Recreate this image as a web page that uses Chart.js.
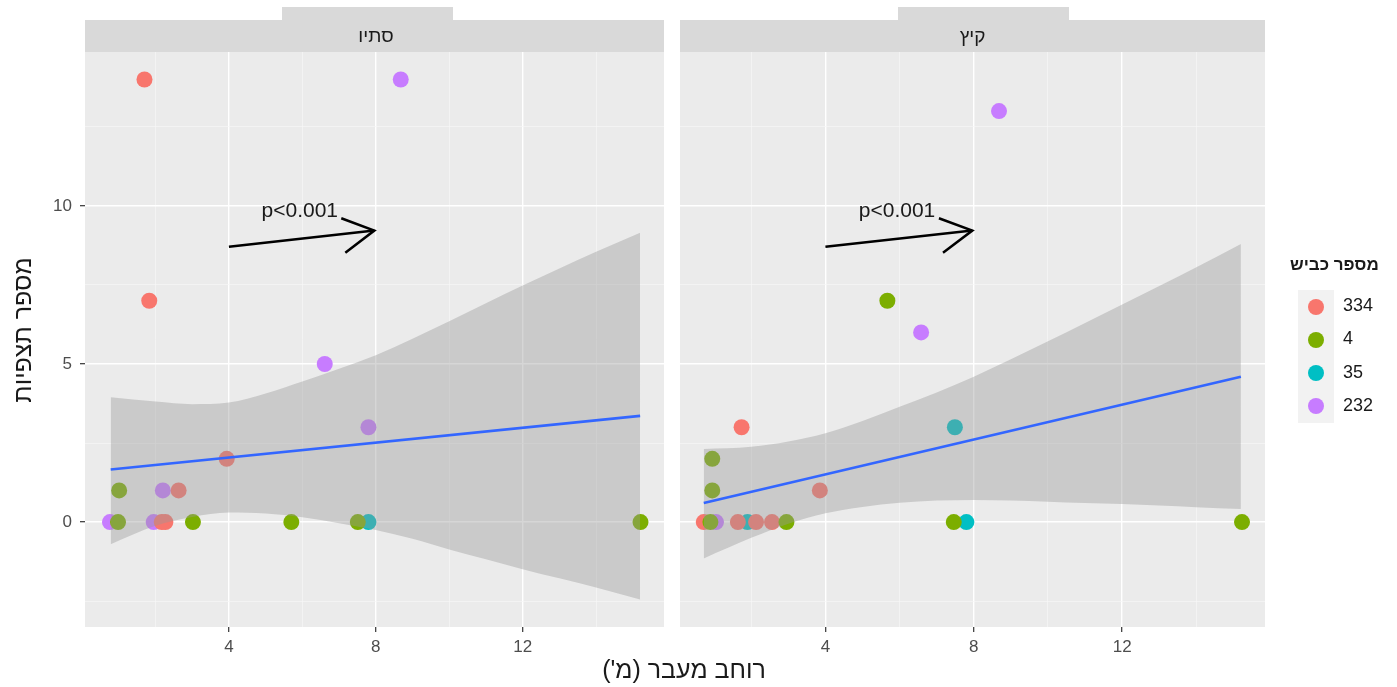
<!DOCTYPE html>
<html>
<head>
<meta charset="utf-8">
<script src="https://cdn.jsdelivr.net/npm/chart.js@4.4.0/dist/chart.umd.min.js"></script>
<style>
  body { margin: 0; background: #fff; width: 1397px; height: 687px; overflow: hidden; position: relative;
         font-family: "Liberation Sans", Arial, sans-serif; }
  canvas { position: absolute; top: 0; }
  .txt { position: absolute; white-space: nowrap; color: #1a1a1a; }
  .strip { top: 20px; height: 32px; line-height: 32px; font-size: 19px; text-align: center; }
  #ytitle { left: -128px; width: 300px; top: 316px; line-height: 28px; font-size: 25px; text-align: center; transform: rotate(-90deg); }
  #xtitle { left: 484px; width: 400px; top: 655px; line-height: 28px; font-size: 25px; text-align: center; }
  #legend { position: absolute; left: 1286px; top: 255px; }
  #legend .title { left: 4px; top: 0; font-size: 17px; font-weight: bold; line-height: 20px; }
  #legend .keys { position: absolute; left: 12px; top: 35px; width: 36px; background: #f2f2f2; }
  #legend .row { position: relative; height: 33.3px; }
  #legend .dot { position: absolute; left: 10px; top: 8.6px; width: 16px; height: 16px; border-radius: 50%; }
  #legend .lab { position: absolute; left: 45px; top: 5px; font-size: 18px; color: #1a1a1a; }
</style>
</head>
<body>
<canvas id="autumn" width="672" height="687" style="left:0"></canvas>
<canvas id="summer" width="725" height="687" style="left:672px"></canvas>
<div class="txt strip" dir="rtl" style="left:85px;width:582px">סתיו</div>
<div class="txt strip" dir="rtl" style="left:680px;width:585px">קיץ</div>
<div class="txt" id="ytitle" dir="rtl">מספר תצפיות</div>
<div class="txt" id="xtitle" dir="rtl">רוחב מעבר (מ')</div>
<div id="legend"><div class="txt title" dir="rtl">מספר כביש</div><div class="keys"></div></div>
<script>
// road numbers (legend order)
var roads = ['334', '4', '35', '232'];

// axis grid
var xMajor = [4, 8, 12];
var xMinor = [2, 6, 10, 14];
var yMajor = [0, 5, 10];
var yMinor = [-2.5, 2.5, 7.5, 12.5];
var xLimits = [0.08, 15.85];
var yLimits = [-3.32, 14.87];

// autumn (סתיו) points per road
var autumnX334 = [1.70, 1.83, 3.94, 2.63, 2.17, 2.27];
var autumnY334 = [14, 7, 2, 1, 0, 0];
var autumnX4 = [1.01, 0.98, 3.02, 5.70, 7.51, 15.21];
var autumnY4 = [1, 0, 0, 0, 0, 0];
var autumnX35 = [7.80];
var autumnY35 = [0];
var autumnX232 = [8.68, 6.61, 7.80, 2.20, 0.76, 1.95];
var autumnY232 = [14, 5, 3, 1, 0, 0];

// summer (קיץ) points per road
var summerX334 = [1.74, 3.85, 0.72, 1.64, 2.13, 2.56];
var summerY334 = [3, 1, 0, 0, 0, 0];
var summerX4 = [5.67, 0.95, 0.95, 0.90, 2.95, 7.46, 15.23];
var summerY4 = [7, 2, 1, 0, 0, 0, 0];
var summerX35 = [7.49, 1.90, 7.80];
var summerY35 = [3, 0, 0];
var summerX232 = [8.68, 6.58, 1.05];
var summerY232 = [13, 6, 0];

// fitted lines
var autumnFitX = [0.78, 15.2];
var autumnFitY = [1.66, 3.36];
var summerFitX = [0.72, 15.2];
var summerFitY = [0.60, 4.60];

// confidence bands
var autumnBandX = [0.78, 2, 3, 4, 5, 6, 7, 8, 9, 10, 11, 12, 13, 14, 15.2];
var autumnUpper = [3.95, 3.81, 3.73, 3.78, 4.07, 4.45, 4.85, 5.28, 5.80, 6.35, 6.92, 7.48, 8.02, 8.55, 9.15];
var autumnLower = [-0.70, -0.12, 0.16, 0.30, 0.27, 0.15, -0.04, -0.25, -0.53, -0.87, -1.18, -1.49, -1.78, -2.07, -2.45];
var summerBandX = [0.72, 2, 3, 4, 5, 6, 7, 8, 9, 10, 11, 12, 13, 14, 15.2];
var summerUpper = [2.31, 2.38, 2.55, 2.81, 3.20, 3.65, 4.10, 4.60, 5.15, 5.72, 6.30, 6.88, 7.47, 8.06, 8.80];
var summerLower = [-1.15, -0.50, -0.05, 0.28, 0.48, 0.61, 0.68, 0.70, 0.68, 0.64, 0.60, 0.57, 0.52, 0.47, 0.41];

// hand drawn arrow + note (same in both panels)
var arrowX = [4.0, 7.96];
var arrowY = [8.71, 9.22];
var headX = [7.06, 7.96, 7.17];
var headY = [9.61, 9.22, 8.52];
var noteText = 'p<0.001';
var noteX = 5.93;
var noteY = 9.84;

var roadColors = ['#F8766D', '#7CAE00', '#00BFC4', '#C77CFF'];

function pts(xs, ys) {
  return xs.map(function (x, i) { return { x: x, y: ys[i] }; });
}

var panelPlugin = {
  id: 'panel',
  beforeDraw: function (chart, args, opts) {
    var ctx = chart.ctx, a = chart.chartArea;
    ctx.save();
    ctx.fillStyle = '#EBEBEB';
    ctx.fillRect(a.left, a.top, a.right - a.left, a.bottom - a.top);
    ctx.fillStyle = '#D9D9D9';
    ctx.fillRect(a.left, a.top - 32, a.right - a.left, 32);
    ctx.fillRect(a.left + opts.tabLeft, a.top - 45, opts.tabWidth, 14);
    ctx.restore();
  },
  afterDatasetsDraw: function (chart) {
    var ctx = chart.ctx;
    ctx.save();
    ctx.font = '21px "Liberation Sans", Arial, sans-serif';
    ctx.fillStyle = '#1a1a1a';
    ctx.textAlign = 'center';
    ctx.textBaseline = 'middle';
    ctx.fillText(noteText, chart.scales.x.getPixelForValue(noteX), chart.scales.y.getPixelForValue(noteY));
    ctx.restore();
  }
};

function makePanel(id, s) {
  var lineBits = { showLine: true, pointRadius: 0, fill: false };
  var datasets = [
    Object.assign({ data: pts(arrowX, arrowY), borderColor: '#000', borderWidth: 2.5, order: 0 }, lineBits),
    Object.assign({ data: pts(headX, headY), borderColor: '#000', borderWidth: 2.5, order: 0 }, lineBits),
    Object.assign({ data: pts(s.fitX, s.fitY), borderColor: '#3366FF', borderWidth: 2.6, order: 1 }, lineBits),
    { data: pts(s.bandX, s.lower), showLine: true, pointRadius: 0, borderWidth: 1, borderColor: 'rgba(0,0,0,0)',
      cubicInterpolationMode: 'monotone', fill: false, order: 3 },
    { data: pts(s.bandX, s.upper), showLine: true, pointRadius: 0, borderWidth: 1, borderColor: 'rgba(0,0,0,0)',
      cubicInterpolationMode: 'monotone', fill: { target: 3 }, backgroundColor: 'rgba(153,153,153,0.4)', order: 2 }
  ];
  // drawing order of the point layers (top first): 4, 334, 35, 232
  var layerOrder = { '4': 4, '334': 5, '35': 6, '232': 7 };
  roads.forEach(function (r, i) {
    datasets.push({
      data: pts(s.points[r][0], s.points[r][1]),
      pointRadius: 8, pointHoverRadius: 8, pointBorderWidth: 0,
      pointBackgroundColor: roadColors[i], backgroundColor: roadColors[i],
      order: layerOrder[r]
    });
  });

  var isMajorX = function (c) { return c.tick && xMajor.indexOf(c.tick.value) >= 0; };
  var isMajorY = function (c) { return c.tick && yMajor.indexOf(c.tick.value) >= 0; };

  return new Chart(document.getElementById(id), {
    type: 'scatter',
    data: { datasets: datasets },
    plugins: [panelPlugin],
    options: {
      responsive: false,
      animation: false,
      events: [],
      layout: { padding: { top: 52, right: s.padRight, left: 0, bottom: 0 } },
      plugins: {
        legend: { display: false },
        tooltip: { enabled: false },
        panel: { tabLeft: s.tabLeft, tabWidth: 171 }
      },
      scales: {
        x: {
          type: 'linear', min: xLimits[0], max: xLimits[1], bounds: 'data',
          afterBuildTicks: function (sc) {
            sc.ticks = xMajor.concat(xMinor).sort(function (a, b) { return a - b; })
              .map(function (v) { return { value: v }; });
          },
          afterFit: function (sc) { sc.height = 60; },
          border: { display: false },
          grid: {
            color: function (c) { return isMajorX(c) ? '#ffffff' : '#f7f7f7'; },
            lineWidth: function (c) { return isMajorX(c) ? 1.4 : 0.7; },
            tickLength: 5,
            tickWidth: 1.2,
            tickColor: function (c) { return isMajorX(c) ? '#333333' : 'rgba(0,0,0,0)'; }
          },
          ticks: {
            autoSkip: false, maxRotation: 0, padding: 5, color: '#4d4d4d',
            font: { size: 17 },
            callback: function (v) { return xMajor.indexOf(v) >= 0 ? String(v) : ''; }
          }
        },
        y: {
          type: 'linear', min: yLimits[0], max: yLimits[1], bounds: 'data',
          afterBuildTicks: function (sc) {
            sc.ticks = yMajor.concat(yMinor).sort(function (a, b) { return a - b; })
              .map(function (v) { return { value: v }; });
          },
          afterFit: function (sc) { sc.width = s.yWidth; },
          border: { display: false },
          grid: {
            color: function (c) { return isMajorY(c) ? '#ffffff' : '#f7f7f7'; },
            lineWidth: function (c) { return isMajorY(c) ? 1.4 : 0.7; },
            drawTicks: s.yLabels,
            tickLength: 5,
            tickWidth: 1.2,
            tickColor: function (c) { return isMajorY(c) ? '#333333' : 'rgba(0,0,0,0)'; }
          },
          ticks: {
            display: s.yLabels, padding: 8, color: '#4d4d4d',
            font: { size: 17 },
            callback: function (v) { return yMajor.indexOf(v) >= 0 ? String(v) : ''; }
          }
        }
      }
    }
  });
}

Chart.defaults.font.family = '"Liberation Sans", Arial, sans-serif';

makePanel('autumn', {
  points: { '334': [autumnX334, autumnY334], '4': [autumnX4, autumnY4], '35': [autumnX35, autumnY35], '232': [autumnX232, autumnY232] },
  fitX: autumnFitX, fitY: autumnFitY,
  bandX: autumnBandX, upper: autumnUpper, lower: autumnLower,
  yWidth: 85, yLabels: true, padRight: 5, tabLeft: 197
});

makePanel('summer', {
  points: { '334': [summerX334, summerY334], '4': [summerX4, summerY4], '35': [summerX35, summerY35], '232': [summerX232, summerY232] },
  fitX: summerFitX, fitY: summerFitY,
  bandX: summerBandX, upper: summerUpper, lower: summerLower,
  yWidth: 8, yLabels: false, padRight: 132, tabLeft: 218
});

// legend
var keys = document.querySelector('#legend .keys');
roads.forEach(function (r, i) {
  var row = document.createElement('div');
  row.className = 'row';
  row.innerHTML = '<div class="dot" style="background:' + roadColors[i] + '"></div><div class="lab">' + r + '</div>';
  keys.appendChild(row);
});
</script>
</body>
</html>
